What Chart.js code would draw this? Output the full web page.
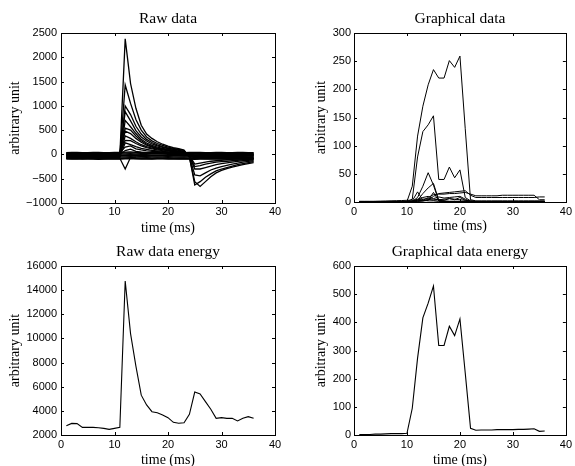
<!DOCTYPE html>
<html><head><meta charset="utf-8">
<script src="https://cdn.jsdelivr.net/npm/chart.js@4.4.1/dist/chart.umd.min.js"></script>
<style>
html,body{margin:0;padding:0;background:#fff;}
#wrap{position:relative;width:575px;height:466px;overflow:hidden;}
canvas{position:absolute;left:0;top:0;}
</style></head><body>
<div id="wrap">
<canvas id="c1" width="575" height="466"></canvas>
<canvas id="c2" width="575" height="466"></canvas>
<canvas id="c3" width="575" height="466"></canvas>
<canvas id="c4" width="575" height="466"></canvas>
</div>
<script>
// ---------- data ----------
const timeMs = [1,2,3,4,5,6,7,8,9,10,11,12,13,14,15,16,17,18,19,20,21,22,23,24,25,26,27,28,29,30,31,32,33,34,35,36];
const xTicks = [0,10,20,30,40];
const rawTicks = [-1000,-500,0,500,1000,1500,2000,2500];
const graphTicks = [0,50,100,150,200,250,300];
const rawEnergyTicks = [2000,4000,6000,8000,10000,12000,14000,16000];
const graphEnergyTicks = [0,100,200,300,400,500,600];

const rawDataLines = [
  [-92,-96,-98,-94,-90,-95,-99,-96,-92,-94,-97,-90,-85,-92,-96,-98,-95,-92,-90,-94,-97,-95,-92,-96,-99,-97,-94,-92,-95,-98,-96,-93,-95,-97,-94,-92],
  [-84,-86,-88,-83,-82,-87,-89,-85,-83,-86,-88,-80,-76,-84,-87,-88,-85,-83,-82,-86,-88,-85,-83,-87,-89,-86,-84,-83,-86,-88,-85,-83,-86,-87,-85,-83],
  [-74,-78,-76,-72,-75,-79,-77,-73,-75,-78,-76,-70,-68,-74,-77,-79,-76,-73,-75,-78,-76,-74,-72,-76,-79,-77,-75,-73,-76,-78,-75,-73,-76,-78,-75,-74],
  [-55,-58,-56,-53,-54,-59,-57,-54,-55,-58,-56,-50,-46,-53,-57,-59,-56,-54,-55,-58,-56,-55,-53,-56,-59,-57,-55,-54,-56,-58,-55,-54,-56,-58,-55,-55],
  [-34,-38,-36,-32,-35,-39,-37,-33,-35,-38,-36,-30,-25,-32,-37,-39,-36,-33,-35,-38,-36,-34,-32,-36,-39,-37,-35,-33,-36,-38,-35,-33,-36,-38,-35,-34],
  [-24,-27,-26,-22,-25,-28,-27,-23,-25,-27,-26,-20,-16,-22,-27,-28,-26,-23,-25,-27,-26,-24,-22,-26,-28,-27,-25,-23,-26,-27,-25,-23,-26,-27,-25,-24],
  [-14,-18,-16,-12,-15,-19,-17,-13,-15,-18,-16,-10,-5,-12,-17,-19,-16,-13,-15,-18,-16,-14,-12,-16,-19,-17,-15,-13,-16,-18,-15,-13,-16,-18,-15,-14],
  [4,8,6,2,5,9,7,3,5,8,6,12,15,8,4,2,5,7,5,3,6,4,2,6,8,7,5,3,6,8,5,3,6,8,5,4],
  [22,25,24,20,22,26,24,21,22,25,23,30,34,26,22,20,22,24,22,21,23,22,20,23,25,24,22,21,23,25,22,21,23,25,22,22],
  [38,42,40,36,39,43,41,37,39,42,40,48,50,44,40,36,39,41,39,37,40,38,36,40,43,41,39,37,40,42,39,37,40,42,39,38],
  [-30,-35,-40,-32,-28,-35,-38,-30,-25,-30,-20,2380,1460,950,600,420,330,260,210,170,140,120,90,-60,-560,-660,-560,-460,-380,-330,-290,-260,-235,-210,-190,-170],
  [-10,-15,-12,-8,-14,-18,-12,-10,-15,-12,-5,1430,1050,720,500,360,280,225,185,150,125,105,80,-50,-630,-560,-470,-400,-340,-300,-270,-240,-210,-190,-170,-150],
  [-50,-55,-48,-52,-58,-50,-45,-52,-55,-50,-40,1000,820,580,420,310,245,195,160,132,110,92,60,-40,-420,-440,-380,-320,-280,-250,-225,-200,-180,-160,-145,-130],
  [0,5,-5,2,8,0,-4,3,5,0,10,880,690,490,360,275,215,175,145,122,102,82,50,-30,-300,-300,-270,-240,-210,-190,-175,-160,-145,-130,-120,-110],
  [-70,-65,-72,-68,-75,-70,-66,-72,-70,-68,-60,700,570,430,310,235,185,150,122,102,88,70,40,-30,-250,-230,-200,-180,-160,-150,-140,-130,-120,-110,-105,-100],
  [20,15,22,18,12,20,25,18,15,20,25,540,500,380,280,210,165,132,110,92,80,62,40,-20,-200,-180,-160,-140,-130,-120,-110,-100,-95,-90,-85,-80],
  [-20,-25,-18,-22,-28,-20,-15,-22,-25,-20,-10,480,430,330,250,190,150,122,100,85,72,55,30,-10,-30,-40,-35,-30,-28,-25,-22,-20,-20,-18,-15,-15],
  [-40,-45,-38,-42,-48,-40,-35,-42,-45,-40,-30,380,330,260,200,160,130,110,92,78,64,45,20,-30,-50,-55,-50,-48,-45,-42,-40,-40,-38,-36,-35,-35],
  [10,5,12,8,2,10,15,8,5,10,15,290,285,225,175,142,115,95,80,68,58,40,25,0,-10,-15,-12,-10,-8,-5,-5,-3,-2,0,0,0],
  [-60,-62,-58,-65,-60,-55,-62,-60,-58,-60,-50,240,200,160,125,102,84,72,62,52,46,30,10,-40,-60,-62,-60,-58,-60,-62,-60,-58,-60,-62,-60,-58],
  [30,28,32,25,30,35,28,30,32,28,35,150,175,115,92,75,62,55,50,45,42,35,30,20,25,28,30,28,25,30,32,28,30,32,30,28],
  [-5,-8,-3,-6,-10,-5,-2,-6,-8,-5,0,80,110,65,45,35,28,22,18,15,12,10,5,-5,-8,-6,-5,-8,-6,-5,-7,-6,-5,-8,-6,-5],
  [-85,-88,-82,-90,-86,-84,-88,-90,-85,-86,-80,-300,-60,-75,-80,-82,-85,-88,-84,-80,-82,-86,-88,-85,-82,-80,-84,-86,-88,-85,-82,-80,-84,-86,-88,-85]
];

const graphDataLines = [
  [1,1,1,1,1,1,1,1,1,1,28,117,170,208,235,220,220,251,239,259,130,4,2,2,2,2,2,2,2,2,2,2,2,2,2,2],
  [1,1,1,1,1,1,1,1,1,1,5,80,125,137,153,40,40,62,43,57,8,2,1,1,1,1,1,1,1,1,1,1,1,1,1,1],
  [0,0,0,0,0,0,0,0,0,0,1,8,28,52,30,2,1,1,1,1,1,1,0,0,0,0,0,0,0,0,0,0,0,0,0,0],
  [0,0,0,0,0,0,0,0,0,0,1,3,15,25,33,3,2,1,1,1,1,1,0,0,0,0,0,0,0,0,0,0,0,0,0,0],
  [0,0,0,0,0,0,0,0,0,0,2,18,3,2,2,1,1,1,1,1,1,0,0,0,0,0,0,0,0,0,0,0,0,0,0,0],
  [0,0,0,0,0,0,0,0,0,0,0,1,2,3,17,2,1,1,1,1,0,0,0,0,0,0,0,0,0,0,0,0,0,0,0,0],
  [1,1,1,1,1,1,1,1,1,1,1,2,3,8,13,14,14,15,15,16,17,14,11,11,11,11,11,12,12,12,12,12,12,12,4,4],
  [0,0,0,0,0,0,0,0,0,0,0,1,2,3,10,15,16,17,18,19,20,12,8,8,8,8,8,8,8,8,8,8,8,8,9,9],
  [0,0,0,0,0,0,0,0,0,0,1,5,8,10,6,9,7,8,9,10,5,1,0,0,0,0,0,0,0,0,0,0,0,0,0,0],
  [0,0,0,0,0,0,0,0,0,0,1,3,2,5,3,4,3,6,4,8,3,1,0,0,0,0,0,0,0,0,0,0,0,0,0,0],
  [0,0.3,0.6,1,1.3,1.6,2,2.3,2.6,3,3,4,5,6,5,4,5,6,5,4,3,2,1,1,1,1,1,1,1,1,1,1,1,1,1,1]
];

const rawEnergy = [2770,2960,2940,2630,2630,2630,2600,2550,2470,2550,2630,14750,10400,7700,5300,4490,3930,3850,3660,3435,3050,2970,3020,3710,5560,5400,4760,4130,3380,3435,3380,3380,3160,3380,3520,3380];
const graphEnergy = [2,2,2,3,3,4,5,5,5,6,95,273,416,468,529,318,318,386,353,412,220,24,17,18,18,18,19,19,19,19,20,20,21,22,13,14];

// ---------- rendering ----------
const SERIF = '"Liberation Serif", "Times New Roman", Times, serif';
const SANS = '"Liberation Sans", Arial, Helvetica, sans-serif';

const framePlugin = {
  id: 'matlabFrame',
  afterDatasetsDraw(chart) {
    const {ctx, chartArea: a, scales: {x, y}} = chart;
    const L = 3;
    ctx.save();
    ctx.strokeStyle = '#000';
    ctx.lineWidth = 1;
    ctx.beginPath();
    x.ticks.forEach(t => {
      const px = Math.round(x.getPixelForValue(t.value)) + 0.5;
      ctx.moveTo(px, a.bottom); ctx.lineTo(px, a.bottom - L);
      ctx.moveTo(px, a.top); ctx.lineTo(px, a.top + L);
    });
    y.ticks.forEach(t => {
      const py = Math.round(y.getPixelForValue(t.value)) + 0.5;
      ctx.moveTo(a.left, py); ctx.lineTo(a.left + L, py);
      ctx.moveTo(a.right, py); ctx.lineTo(a.right - L, py);
    });
    ctx.stroke();
    ctx.strokeRect(Math.round(a.left) + 0.5, Math.round(a.top) + 0.5,
                   Math.round(a.right - a.left), Math.round(a.bottom - a.top));
    ctx.restore();
  }
};

function fmt(v) { return v < 0 ? '\u2212' + (-v) : String(v); }

function makePlot(id, lines, yTicks, cfg) {
  const datasets = lines.map(vals => ({
    data: vals.map((v, i) => ({x: timeMs[i], y: v})),
    borderColor: '#000', borderWidth: cfg.lw, pointRadius: 0, tension: 0, fill: false
  }));
  new Chart(document.getElementById(id), {
    type: 'line',
    data: {datasets},
    options: {
      responsive: false, animation: false, events: [],
      layout: {autoPadding: false, padding: {
        left: cfg.padL, right: 575 - cfg.right, top: cfg.padT,
        bottom: 466 - cfg.bottom - cfg.xH}},
      plugins: {
        legend: {display: false}, tooltip: {enabled: false},
        title: {display: true, text: cfg.title, fullSize: false, color: '#000',
          font: {family: SERIF, size: 15.5, weight: 'normal', lineHeight: 1.2},
          padding: {top: 10, bottom: 4.4}}
      },
      scales: {
        x: {
          type: 'linear', min: 0, max: 40,
          grid: {display: false, drawTicks: false}, border: {display: false},
          afterBuildTicks: s => { s.ticks = xTicks.map(v => ({value: v})); },
          afterFit: s => { s.height = cfg.xH; },
          ticks: {font: {family: SANS, size: 11}, color: '#000', padding: cfg.xTickPad,
                  maxRotation: 0, autoSkip: false, callback: v => fmt(v)},
          title: {display: true, text: 'time (ms)', color: '#000',
                  font: {family: SERIF, size: 14, lineHeight: 1.2},
                  padding: {top: 0, bottom: cfg.xTitlePadB}}
        },
        y: {
          type: 'linear', min: yTicks[0], max: yTicks[yTicks.length - 1],
          grid: {display: false, drawTicks: false}, border: {display: false},
          afterBuildTicks: s => { s.ticks = yTicks.map(v => ({value: v})); },
          afterFit: s => { s.width = cfg.left - cfg.padL; },
          ticks: {font: {family: SANS, size: 11}, color: '#000', padding: cfg.yTickPad,
                  autoSkip: false, callback: v => fmt(v)},
          title: {display: true, text: 'arbitrary unit', color: '#000',
                  font: {family: SERIF, size: 14, lineHeight: 1.2},
                  padding: {top: cfg.yTitlePadT, bottom: 0}}
        }
      }
    },
    plugins: [framePlugin]
  });
}

makePlot('c1', rawDataLines, rawTicks, {
  title: 'Raw data', padL: 0, left: 61, right: 275, padT: 0, bottom: 203, lw: 1.3,
  xH: 34, xTickPad: 2.3, xTitlePadB: 0.6, yTickPad: 4, yTitlePadT: 6.6});
makePlot('c2', graphDataLines, graphTicks, {
  title: 'Graphical data', padL: 300, left: 354, right: 569, padT: 0, bottom: 202, lw: 1,
  xH: 34, xTickPad: 3, xTitlePadB: 1.6, yTickPad: 3, yTitlePadT: 13.1});
makePlot('c3', [rawEnergy], rawEnergyTicks, {
  title: 'Raw data energy', padL: 0, left: 61, right: 275, padT: 233, bottom: 435, lw: 1.1,
  xH: 31, xTickPad: 3, xTitlePadB: -3.1, yTickPad: 4, yTitlePadT: 6.6});
makePlot('c4', [graphEnergy], graphEnergyTicks, {
  title: 'Graphical data energy', padL: 300, left: 354, right: 569, padT: 233, bottom: 435, lw: 1.1,
  xH: 31, xTickPad: 3, xTitlePadB: -3.1, yTickPad: 3, yTitlePadT: 13.1});
</script>
</body></html>
